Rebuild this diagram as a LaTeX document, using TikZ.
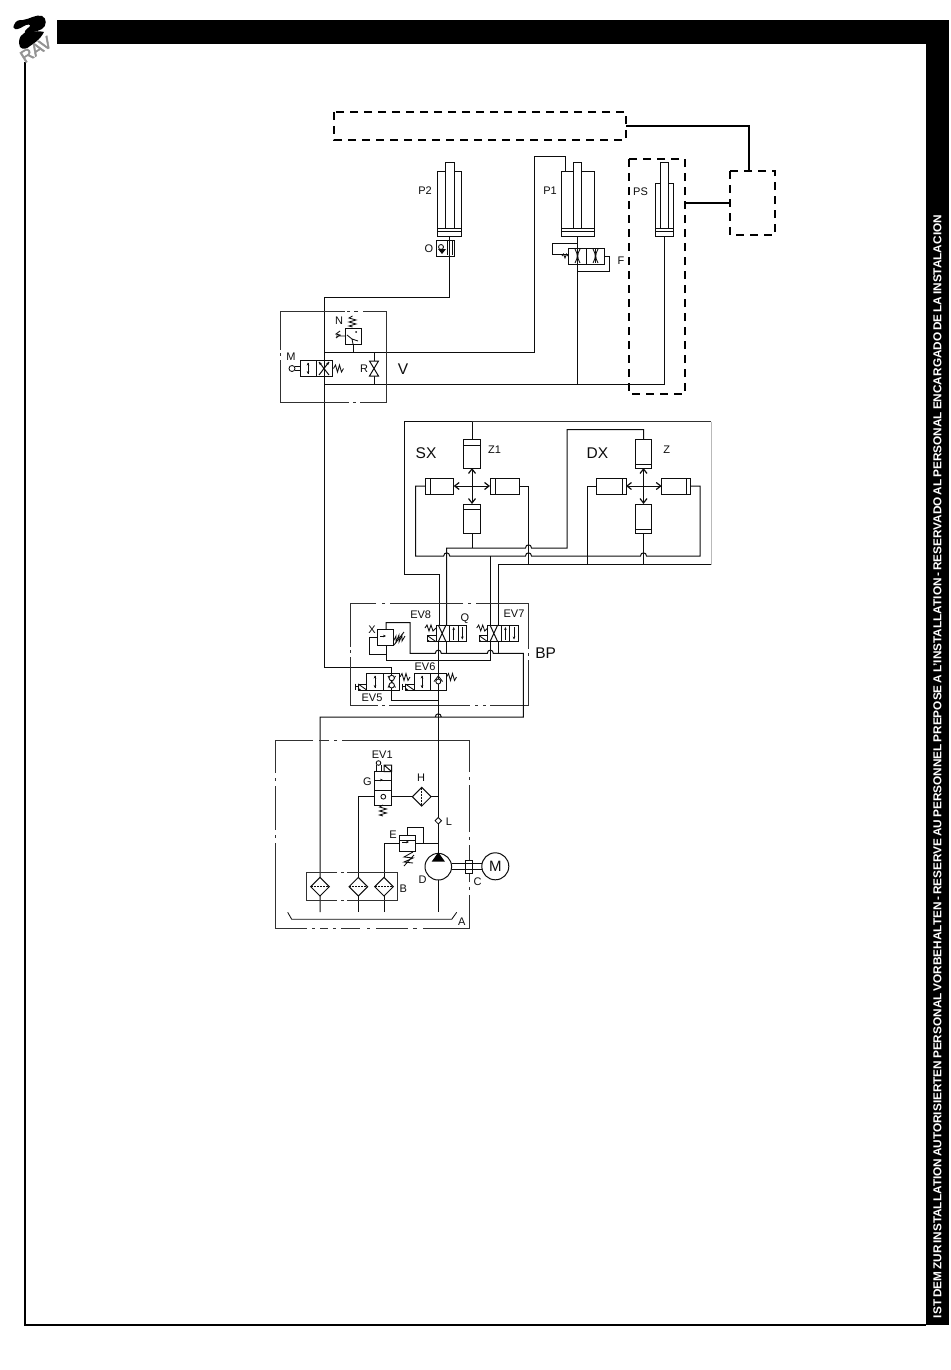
\documentclass[tikz,border=0pt]{standalone}
\usepackage{fontspec}
\usepackage{graphicx}
\setmainfont{Liberation Sans}
\newfontfamily\logofont[FakeBold=2.5]{Liberation Sans}
\usetikzlibrary{arrows.meta}
\definecolor{ink}{gray}{0.05}
\tikzset{
  ln/.style={draw=ink,line width=1pt,line join=miter},
  box/.style={draw=ink!85,line width=1pt},
  thin/.style={draw=ink,line width=0.85pt},
  heavy/.style={draw=black,line width=2pt},
  dbox/.style={draw=black,line width=2pt,dash pattern=on 8pt off 6pt},
  lab/.style={inner sep=0pt,font=\fontsize{11}{11}\selectfont,text=ink},
  biglab/.style={inner sep=0pt,font=\fontsize{15.5}{15.5}\selectfont,text=ink},
  axis/.style={draw=ink,line width=1pt,{Straight Barb[length=4.5pt,width=7pt,line width=1.2pt]}-{Straight Barb[length=4.5pt,width=7pt,line width=1.2pt]}},
  flow/.style={draw=ink,line width=0.8pt,-{Stealth[length=3pt,width=2.6pt]}}
}
% hop on a horizontal line over a vertical one
\newcommand\hop[2]{-- (#1-3,#2) .. controls (#1-3,#2-4.2) and (#1+3,#2-4.2) .. (#1+3,#2)}
\newcommand\lab[4]{\node[lab] (#1) at (#2,#3) {#4};}
\newcommand\biglab[4]{\node[biglab] (#1) at (#2,#3) {#4};}
\newcommand\springh[2]{\draw[thin] (#1,#2) -- ++(2,-3.5) -- ++(2,7) -- ++(2,-7) -- ++(2,7) -- ++(2,-3.5);}
\newcommand\springv[2]{\draw[thin] (#1,#2) -- ++(-3.5,2) -- ++(7,2) -- ++(-7,2) -- ++(7,2) -- ++(-7,2) -- ++(3.5,1);}
\newcommand\filterh[2]{\draw[ln,fill=white] (#1-9.3,#2) -- (#1,#2-9.3) -- (#1+9.3,#2) -- (#1,#2+9.3) -- cycle; \draw[thin,dash pattern=on 2pt off 1pt] (#1-9,#2) -- (#1+9,#2);}
\newcommand\filterv[2]{\draw[ln,fill=white] (#1-9.3,#2) -- (#1,#2-9.3) -- (#1+9.3,#2) -- (#1,#2+9.3) -- cycle; \draw[thin,dash pattern=on 2pt off 1pt] (#1,#2-9) -- (#1,#2+9);}
\newcommand\sol[2]{\draw[ln] (#1,#2) rectangle ++(8.5,-6); \draw[thin] (#1,#2-6) -- ++(8.5,6); \fill[ink] (#1,#2) -- ++(3,0) -- ++(-3,-2.2) -- cycle;}
\newcommand\ev[1]{%
  \draw[ln,fill=white] (#1,625) rectangle (#1+13.3,641.7);
  \draw[ln] (#1+2.3,625) -- (#1+10,641.7) (#1+10,625) -- (#1+2.3,641.7);
  \draw[ln] (#1+13.3,625) rectangle (#1+30.7,641.7) (#1+22,625) -- (#1+22,641.7);
  \draw[flow] (#1+17.7,639.5) -- (#1+17.7,627);
  \draw[flow] (#1+26.3,627) -- (#1+26.3,639.5);
  \draw[thin] (#1-11,628) -- ++(2,-3) -- ++(2,6) -- ++(2,-6) -- ++(2,6) -- ++(3,-3);
  \sol{#1-8.5}{641.7}
}
\begin{document}
\begin{tikzpicture}[x=1pt,y=-1pt]
\useasboundingbox (0,0) rectangle (950,1370);
\fill[white] (0,0) rectangle (950,1370);
% ---------- page frame
\fill[black] (57,20) rectangle (949,44);
\fill[black] (926,44) rectangle (949,1325);
\draw[black,line width=2pt] (24.5,62) -- (24.5,1324.5) -- (926,1324.5);
\node[inner sep=0pt,rotate=90,text=white] (side) at (937.3,766.5)
  {\resizebox{1103pt}{8pt}{\bfseries\spaceskip=0.16em IST DEM ZUR INSTALLATION AUTORISIERTEN PERSONAL VORBEHALTEN - RESERVE AU PERSONNEL PREPOSE A L'INSTALLATION - RESERVADO AL PERSONAL ENCARGADO DE LA INSTALACION}};
% ---------- logo
\fill[black] (14,25) .. controls (16,20) and (19,20) .. (23,20) .. controls (30,19) and (36,14) .. (42,16)
  .. controls (47,18) and (47,26) .. (42,29) .. controls (36,32) and (32,32) .. (28,33)
  .. controls (24,34) and (23,32) .. (28,28) .. controls (32,25) and (30,24) .. (26,25)
  .. controls (22,27) and (18,30) .. (15,29) .. controls (13,28) and (13,27) .. (14,25) -- cycle;
\fill[black] (20,47) .. controls (17,38) and (22,32) .. (29,32) .. controls (35,31) and (40,31) .. (44,32)
  .. controls (40,40) and (33,44) .. (30,46) .. controls (27,49) and (23,50) .. (20,47) -- cycle;
\node[inner sep=0pt,rotate=32,text=gray!85,font=\fontsize{17}{17}\logofont] (logo) at (36,49.5) {RAV};
% ---------- dashed boxes
\draw[dbox] (334,112) rectangle (626,140);
\draw[dbox] (730,171) rectangle (775,235);
\draw[dbox] (629,159) rectangle (685,394);
\draw[heavy] (626,126) -- (749,126) -- (749,171);
\draw[heavy] (685,203) -- (730,203);
% ---------- upper piping
\draw[ln] (449.7,236) -- (449.7,297) -- (324,297) -- (324,667.3) -- (391.7,667.3) -- (391.7,673.3);
\draw[ln] (324,352.7) -- (534,352.7) -- (534,156.5) -- (565,156.5) -- (565,171);
\draw[ln] (324,384.7) -- (664.5,384.7) -- (664.5,236);
\draw[ln] (577.5,236) -- (577.5,384.7);
\draw[ln] (353,344) -- (353,352.7);
\draw[ln] (374,352.7) -- (374,384.7);
% ---------- cylinder P2
\draw[ln] (437,171) rectangle (461.7,236);
\draw[ln,fill=white] (445,162) rectangle (454,228);
\draw[ln] (437,228) -- (461.7,228) (437,231.5) -- (461.7,231.5);
\draw[ln] (436,240) rectangle (454,256);
\draw[thin] (441,247) circle (2.5);
\fill[ink] (438,249) -- (446,249) -- (442,254) -- cycle;
\draw[thin] (447,241) -- (447,255) (452,241) -- (452,255);
% ---------- cylinder P1
\draw[ln] (561,171) rectangle (594,236);
\draw[ln,fill=white] (573.5,162) rectangle (581.5,228);
\draw[ln] (561,228) -- (594,228) (561,231.5) -- (594,231.5);
% valve F
\draw[ln] (577.5,243) -- (552.5,243) -- (552.5,254.6) -- (568.5,254.6);
\draw[ln] (604.5,256) -- (609,256) -- (609,271.5) -- (577.5,271.5);
\draw[ln] (568.5,248) rectangle (604.5,264) (586.5,248) -- (586.5,264);
\draw[thin] (575,249) .. controls (578,255) and (578,257) .. (575,263) (580,249) .. controls (577,255) and (577,257) .. (580,263);
\draw[thin] (593,249) .. controls (596,255) and (596,257) .. (593,263) (598,249) .. controls (595,255) and (595,257) .. (598,263);
\draw[ln] (595.5,249) -- (595.5,263);
\draw[thin] (562,256) -- ++(1.5,-2) -- ++(1.5,4) -- ++(1.5,-4) -- ++(1.5,2);
% ---------- cylinder PS
\draw[ln] (655.5,183.7) rectangle (673.5,236);
\draw[ln,fill=white] (660,162) rectangle (668,228);
\draw[ln] (655.5,228) -- (673.5,228) (655.5,231.5) -- (673.5,231.5);
% ---------- block V
\draw[box] (345,311) -- (280,311) -- (280,350) (280,353) -- (280,356) (280,360) -- (280,402) -- (349,402) (353,402) -- (356,402) (360,402) -- (386,402) -- (386,311) -- (363,311) (358,311) -- (354,311) (350,311) -- (347,311);
% valve N
\draw[ln] (345,328) rectangle (361,344);
\springv{352.5}{316}
\draw[thin] (347,335) -- (352,339) -- (358,341) (352,339) -- (353,344);
\fill[ink] (356,332) circle (1);
\draw[thin] (340,331) -- (336,334) -- (340,335) -- (336,338) (336,336) -- (345,336);
% valve M
\draw[ln] (300,360) rectangle (332.7,376.7) (316,360) -- (316,376.7);
\draw[flow] (308,374) -- (308,362.5);
\draw[flow] (308,362.5) -- (308,374);
\draw[ln] (319,362) -- (329,375) (329,362) -- (319,375);
\draw[flow] (321,364.5) -- (319,362);
\draw[flow] (327,364.5) -- (329,362);
\draw[thin] (292,368.5) circle (3);
\draw[thin] (295,366.5) -- (300,366.5) (295,370.5) -- (300,370.5);
\springh{333.5}{368.5}
\draw[ln,fill=white] (369.5,361) -- (378.5,361) -- (369.5,376) -- (378.5,376) -- cycle;
% ---------- SX / DX piping
\draw[ln] (472,439.3) -- (472,421.7);
\draw[box] (404,421.7) -- (711,421.7);
\draw[gray!55,line width=1pt] (711,421.7) -- (711,565);
\draw[ln] (472,421.7) -- (404,421.7) -- (404,574.7) -- (439,574.7) -- (439,625);
\draw[ln] (425,486) -- (415.5,486) -- (415.5,556) \hop{446.7}{556} \hop{528.5}{556} \hop{643.5}{556} -- (700,556) -- (700,486) -- (690.7,486);
\draw[ln] (446.7,625) -- (446.7,548) \hop{528.5}{548} -- (567,548) -- (567,429.7) -- (643.5,429.7) -- (643.5,439.3);
\draw[ln] (519,486) -- (528.5,486) -- (528.5,564.7);
\draw[ln] (498,625) -- (498,564.7) -- (711,564.7);
\draw[ln] (490.3,625) -- (490.3,556);
\draw[ln] (472,533) -- (472,548);
\draw[ln] (643.5,533) -- (643.5,564.7);
\draw[ln] (596.7,486) -- (587,486) -- (587,564.7);
% actuators SX
\draw[axis] (472,468) -- (472,504);
\draw[axis] (453.7,486) -- (490,486);
\draw[ln] (463.7,439.3) rectangle (480,468) (463.7,445) -- (480,445);
\draw[ln] (463.7,504.3) rectangle (480,533) (463.7,509) -- (480,509);
\draw[ln] (425,478) rectangle (453.7,494.7) (430,478) -- (430,494.7);
\draw[ln] (490,478) rectangle (519,494.7) (495,478) -- (495,494.7);
% actuators DX
\draw[axis] (643.5,468) -- (643.5,504);
\draw[axis] (626,486) -- (661.7,486);
\draw[ln] (635,439.3) rectangle (651.7,468) (635,464.5) -- (651.7,464.5);
\draw[ln] (635,504.3) rectangle (651.7,533) (635,529) -- (651.7,529);
\draw[ln] (596.7,478) rectangle (626,494.7) (622,478) -- (622,494.7);
\draw[ln] (661.7,478) rectangle (690.7,494.7) (686,478) -- (686,494.7);
% ---------- block BP
\draw[box] (376,603.3) -- (350,603.3) -- (350,647) (350,650) -- (350,653) (350,657) -- (350,705) -- (378,705) (382,705) -- (385,705) (389,705) -- (470,705) (475,705) -- (478,705) (483,705) -- (486,705) (490,705) -- (528.7,705) -- (528.7,660) (528.7,656) -- (528.7,653) (528.7,649) -- (528.7,603.3) -- (476,603.3) (471,603.3) -- (468,603.3) (463,603.3) -- (390,603.3) (385,603.3) -- (382,603.3);
% BP piping
\draw[ln] (438.3,625) -- (438.3,728);
\draw[ln] (446.5,641.7) -- (446.5,653.3);
\draw[ln] (498,641.7) -- (498,653.3);
\draw[ln] (386,629.3) -- (386,622.7) -- (410,622.7) -- (410,653.3) \hop{438.3}{653.3} \hop{490.3}{653.3} -- (523.3,653.3) -- (523.3,717) \hop{438.3}{717} -- (320,717) -- (320,912);
\draw[ln] (490.3,641.7) -- (490.3,660) -- (386,660) -- (386,645.7);
\draw[ln] (377.3,637.7) -- (369.3,637.7) -- (369.3,654) -- (386,654);
\draw[ln] (391.7,690) -- (391.7,700.7) -- (438.3,700.7);
% valve X
\draw[ln,fill=white] (377.3,629.3) rectangle (393.3,645.7);
\draw[flow] (380,636) -- (386,636);
\draw[thin] (393.5,641) -- ++(2.5,-5) -- ++(0,6) -- ++(3,-7) -- ++(0,7) -- ++(3,-7) -- ++(0,6) -- ++(3,-5);
\draw[thin] (394,645) -- (404,632);
% valves EV8, EV7
\ev{436}
\ev{487.7}
% valves EV5, EV6
\draw[ln,fill=white] (366.7,673.3) rectangle (399.3,690) (383.3,673.3) -- (383.3,690);
\draw[flow] (375,688) -- (375,675.5);
\draw[flow] (375,675.5) -- (375,688);
\draw[ln] (391.7,673.3) -- (391.7,690);
\draw[thin] (388,676) -- (395.5,687.5) (395.5,676) -- (388,687.5);
\draw[thin,fill=white] (391.7,678) circle (2.7) (391.7,685.3) circle (2.7);
\sol{358.2}{690}
\draw[thin] (355,683.5) -- (355,690) (355,686.7) -- (358.2,686.7);
\springh{400}{677}
\draw[ln,fill=white] (414,673.3) rectangle (446,690) (430,673.3) -- (430,690);
\draw[flow] (422,688) -- (422,675.5);
\draw[flow] (422,675.5) -- (422,688);
\draw[ln] (438.3,673.3) -- (438.3,690);
\draw[thin] (434,681.5) -- (438.3,676) -- (442.6,681.5);
\draw[thin,fill=white] (438.3,681.5) circle (2.5);
\sol{405.5}{690}
\draw[thin] (402.5,683.5) -- (402.5,690) (402.5,686.7) -- (405.5,686.7);
\springh{446.5}{677}
% ---------- block A
\draw[box] (313,740) -- (275,740) -- (275,773) (275,778) -- (275,781) (275,786) -- (275,830) (275,835) -- (275,838) (275,843) -- (275,928.7) -- (307,928.7) (312,928.7) -- (315,928.7) (320,928.7) -- (328,928.7) (333,928.7) -- (336,928.7) (341,928.7) -- (360,928.7) (367,928.7) -- (370,928.7) (376,928.7) -- (408,928.7) (413,928.7) -- (417,928.7) (423,928.7) -- (469,928.7) -- (469,895) (469,890) -- (469,887) (469,882) -- (469,845) (469,840) -- (469,837) (469,832) -- (469,785) (469,780) -- (469,777) (469,772) -- (469,740) -- (342,740) (337,740) -- (334,740) (329,740) -- (319,740);
\draw[thin] (287.7,912.3) -- (291.7,919.3) -- (451.7,919.3) -- (456.7,912.3);
% A piping
\draw[ln] (438.3,728) -- (438.3,912);
\draw[ln] (438.3,796.7) -- (358.3,796.7) -- (358.3,912);
\draw[ln] (384,912) -- (384,843.7) -- (399,843.7);
\draw[ln] (415.7,843.7) -- (438.3,843.7);
\draw[ln] (423.7,843.7) -- (423.7,827.3) -- (407.3,827.3) -- (407.3,835.7);
% valve G
\draw[ln,fill=white] (374.3,771.7) rectangle (391.7,805) (374.3,780) -- (391.7,780) (374.3,790) -- (391.7,790);
\draw[flow] (378,780) -- (383,780);
\draw[thin,fill=white] (383.3,796.7) circle (2.4);
\springv{383}{805}
\draw[thin,fill=white] (378.5,763) circle (2.3);
\draw[thin] (376,765) -- (376,771.7) (381,765) -- (381,771.7);
\draw[ln] (384,771.7) rectangle (391.7,765) (384,765) -- (391.7,771.7);
% valve E
\draw[ln,fill=white] (399,835.7) rectangle (415.7,851.7);
\draw[flow] (402,842) -- (409,842);
\draw[ln] (399,840.5) -- (415.7,840.5);
\draw[thin] (413,852) -- (404,857) -- (413,858) -- (404,862) -- (413,863) (404,866) -- (414,855);
% filters
\filterv{421.7}{796.7}
\draw[box] (306.3,872.7) -- (306.3,900.7) -- (337,900.7) (341,900.7) -- (344,900.7) (347,900.7) -- (397.7,900.7) -- (397.7,872.7) -- (347,872.7) (344,872.7) -- (341,872.7) (337,872.7) -- (306.3,872.7);
\filterh{320}{886.7}
\filterh{358.3}{886.7}
\filterh{384}{886.7}
% check valve L
\draw[thin,fill=white] (438.3,817.5) -- (441.5,820.7) -- (438.3,823.9) -- (435.1,820.7) -- cycle;
% pump and motor
\draw[ln] (451.5,863.3) -- (482,863.3) (451.5,869.3) -- (482,869.3);
\draw[ln,fill=white] (438.3,866.7) circle (13.3);
\fill[black] (438.3,852.3) -- (445,861.7) -- (431.6,861.7) -- cycle;
\draw[ln,fill=white] (465.7,860) rectangle (472.3,873.3);
\draw[thin] (465.7,863.3) -- (472.3,863.3) (465.7,869.3) -- (472.3,869.3);
\draw[ln,fill=white] (495.3,866.3) circle (13.5);
% ---------- labels
\lab{lP}{425}{191}{P2}
\lab{lO}{429}{248.5}{O}
\lab{lPa}{550}{191}{P1}
\lab{lPS}{640.5}{191.5}{PS}
\lab{lF}{621}{261}{F}
\lab{lN}{339}{321}{N}
\lab{lMv}{291}{356.5}{M}
\lab{lR}{364}{369}{R}
\biglab{lV}{403}{369}{V}
\biglab{lSX}{426}{453}{SX}
\biglab{lDX}{597.5}{453}{DX}
\lab{lZa}{494.5}{450}{Z1}
\lab{lZ}{666.7}{450}{Z}
\lab{lE8}{420.7}{615}{EV8}
\lab{lQ}{465}{619}{Q}
\lab{lE7}{514}{614}{EV7}
\lab{lX}{372}{629.5}{X}
\lab{lE6}{425}{667}{EV6}
\lab{lE5}{372}{697.5}{EV5}
\biglab{lBP}{545.7}{653}{BP}
\lab{lE1}{382.3}{754.5}{EV1}
\lab{lG}{367.3}{782}{G}
\lab{lH}{421}{778}{H}
\lab{lL}{449}{821.5}{L}
\lab{lE}{393}{834.5}{E}
\lab{lD}{422.7}{880}{D}
\lab{lC}{477.7}{882}{C}
\lab{lB}{403.3}{888.5}{B}
\lab{lA}{461.7}{921.7}{A}
\node[inner sep=0pt,font=\fontsize{15}{15}\selectfont,text=ink] (lM) at (495.3,866.3) {M};
\end{tikzpicture}
\end{document}
